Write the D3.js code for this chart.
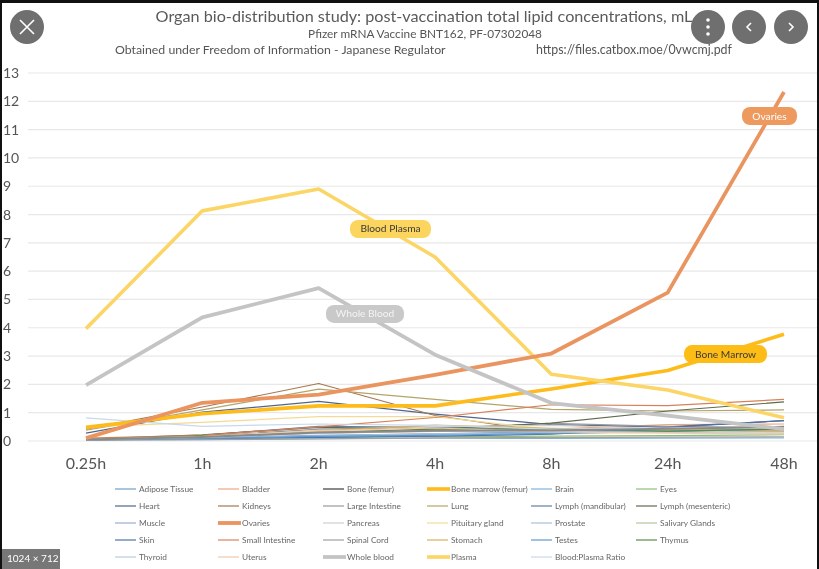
<!DOCTYPE html>
<html><head><meta charset="utf-8">
<script src="https://cdn.jsdelivr.net/npm/d3@7/dist/d3.min.js"></script>
<style>
html,body{margin:0;padding:0;background:#fff;overflow:hidden}
svg{display:block}
text{font-family:"Lato","Open Sans",sans-serif}
</style></head><body><svg id="c" width="819" height="569"></svg>
<script>
const timepoints=["0.25h","1h","2h","4h","8h","24h","48h"];
const yTicks=[0,1,2,3,4,5,6,7,8,9,10,11,12,13];
const seriesNames=["Adipose Tissue","Bladder","Bone (femur)","Bone marrow (femur)","Brain","Eyes","Heart","Kidneys","Large Intestine","Lung","Lymph (mandibular)","Lymph (mesenteric)","Muscle","Ovaries","Pancreas","Pituitary gland","Prostate","Salivary Glands","Skin","Small Intestine","Spinal Cord","Stomach","Testes","Thymus","Thyroid","Uterus","Whole blood","Plasma","Blood:Plasma Ratio"];
const seriesColors=["#6f9fc8","#eea77c","#8a8a8a","#fdbb1b","#7fb4dd","#8fbf72","#50668c","#a8764f","#9a9a9a","#b3a468","#5f7fa6","#5f6b4c","#9cadd0","#ea9460","#cfcfcf","#f0dc96","#a9c1d9","#b5c79b","#4e72ad","#d9805a","#a0a0a0","#dcae5c","#5a9ad0","#5c8a45","#b8cbe6","#f2c9a8","#c4c4c4","#fbd566","#c9d8ec"];
const seriesWidths=[1.2,1.2,2,3.6,1.2,1.2,1.2,1.2,1.2,1.2,1.2,1.2,1.2,3.8,1.2,1.2,1.2,1.2,1.2,1.2,1.2,1.2,1.2,1.2,1.2,1.2,3.8,3.6,1.2];
const v0=[.06,.05,.05,.48,.04,.04,.28,.42,.05,.38,.06,.07,.03,.1,.05,.5,.05,.06,.04,.1,.03,.08,.05,.07,.05,.06,1.97,3.97,.82];
const v1=[.12,.16,.14,.96,.05,.07,1.02,1.2,.17,1.1,.2,.22,.1,1.35,.13,.66,.1,.15,.08,.2,.05,.14,.09,.18,.13,.16,4.37,8.13,.52];
const v2=[.2,.28,.3,1.24,.07,.12,1.4,2.03,.42,1.83,.52,.48,.17,1.64,.34,.86,.18,.3,.13,.5,.08,.36,.16,.3,.27,.36,5.4,8.9,.6];
const v3=[.25,.34,.36,1.24,.1,.16,.95,.9,.45,1.47,.48,.42,.24,2.34,.5,.86,.26,.4,.17,.83,.11,.56,.2,.42,.37,.46,3.05,6.5,.55];
const v4=[.33,.42,.37,1.84,.09,.17,.58,.3,.62,1.12,.42,.63,.3,3.09,.55,.4,.28,.42,.24,1.28,.12,.45,.27,.42,.34,.32,1.34,2.36,.42];
const v5=[.37,.58,.43,2.49,.1,.19,.5,.37,.52,1.06,.34,1.06,.34,5.24,.44,.36,.3,.38,.48,1.25,.14,.4,.34,.35,.3,.28,.9,1.8,.46];
const v6=[.42,.6,.5,3.77,.11,.22,.72,.38,.48,1.1,.36,1.38,.38,12.33,.42,.3,.34,.42,.72,1.47,.15,.35,.42,.42,.27,.25,.42,.82,.5];
const valueRows=[v0,v1,v2,v3,v4,v5,v6];
const callouts=[["Ovaries",769.5,11.48,"#ee9a5e","#fff",55,18],["Blood Plasma",390.5,7.49,"#fcd55f","#3a3a3a",81,18],["Whole Blood",365,4.49,"#c9c9c9","#f4f4f4",78,18],["Bone Marrow",725.5,3.07,"#fdbd14","#3a3a3a",83,18]];

const svg=d3.select("#c");
const defs=svg.append("defs");
defs.append("filter").attr("id","soft").append("feGaussianBlur").attr("stdDeviation",0.35);
const chart=svg.append("g").attr("filter","url(#soft)");
const x=d3.scalePoint().domain(timepoints).range([86,784]);
const y=d3.scaleLinear().domain([0,13]).range([441,73]);
const data=seriesNames.map((name,i)=>({name,color:seriesColors[i],w:seriesWidths[i],values:valueRows.map(r=>r[i])}));

chart.append("g").selectAll("line").data(yTicks).join("line")
 .attr("x1",28).attr("x2",817).attr("y1",d=>y(d)).attr("y2",d=>y(d)).attr("stroke","#e8e8e8").attr("stroke-width",1.2);
chart.append("g").selectAll("text").data(yTicks).join("text")
 .attr("x",3).attr("y",d=>y(d)+5).attr("font-size",14).attr("fill","#555").text(d=>d);
chart.append("g").selectAll("text").data(timepoints).join("text")
 .attr("x",d=>x(d)).attr("y",469).attr("text-anchor","middle").attr("font-size",16).attr("fill","#555").text(d=>d);

const line=d3.line().x((d,i)=>x(timepoints[i])).y(d=>y(d));
const order=data.slice().sort((a,b)=>a.w-b.w);
chart.append("g").selectAll("path").data(order).join("path")
 .attr("fill","none").attr("stroke",d=>d.color).attr("stroke-width",d=>d.w).attr("stroke-linejoin","round")
 .attr("d",d=>line(d.values));

callouts.forEach(c=>{
 const cx=c[1],cy=y(c[2]);
 chart.append("rect").attr("x",cx-c[5]/2).attr("y",cy-c[6]/2).attr("width",c[5]).attr("height",c[6]).attr("rx",8).attr("fill",c[3]);
 chart.append("text").attr("x",cx).attr("y",cy+3.5).attr("text-anchor","middle").attr("font-size",10.2).attr("fill",c[4]).text(c[0]);
});

const colX=[115,218,323,427,531,636], rowY=[489,506,523,540,557];
const lg=chart.append("g").selectAll("g").data(data).join("g")
 .attr("transform",(d,i)=>`translate(${colX[i%6]},${rowY[Math.floor(i/6)]})`);
lg.append("line").attr("x1",0).attr("x2",d=>d.w>2?23:21).attr("stroke",d=>d.color).attr("stroke-width",d=>d.w);
lg.append("text").attr("x",24).attr("y",3).attr("font-size",8.3).attr("fill","#666").text(d=>d.name);

chart.append("text").attr("x",424).attr("y",22).attr("text-anchor","middle").attr("font-size",16.2).attr("fill","#5a5a5a").text("Organ bio-distribution study: post-vaccination total lipid concentrations, mL");
chart.append("text").attr("x",425).attr("y",38).attr("text-anchor","middle").attr("font-size",11.8).attr("fill","#555").text("Pfizer mRNA Vaccine BNT162, PF-07302048");
chart.append("text").attr("x",115).attr("y",54).attr("font-size",12.3).attr("fill","#555").text("Obtained under Freedom of Information - Japanese Regulator");
chart.append("text").attr("x",536).attr("y",54).attr("font-size",12.4).attr("fill","#555").text("https://files.catbox.moe/0vwcmj.pdf");

// viewer overlay
svg.append("rect").attr("x",0).attr("y",0).attr("width",819).attr("height",3).attr("fill","#111");
svg.append("rect").attr("x",0).attr("y",0).attr("width",2).attr("height",569).attr("fill","#111");
svg.append("rect").attr("x",817).attr("y",0).attr("width",2).attr("height",569).attr("fill","#111");
const btn=[[27,27],[708,27],[749,27],[791,27]];
svg.append("g").selectAll("circle").data(btn).join("circle").attr("cx",d=>d[0]).attr("cy",d=>d[1]).attr("r",17).attr("fill","#6f6f6f");
svg.append("path").attr("d","M20 20L34 34M34 20L20 34").attr("stroke","#fff").attr("stroke-width",1.6);
svg.append("g").selectAll("circle").data([20,27,34]).join("circle").attr("cx",708).attr("cy",d=>d).attr("r",1.8).attr("fill","#fff");
svg.append("path").attr("d","M751 23L747 27L751 31").attr("fill","none").attr("stroke","#fff").attr("stroke-width",1.6);
svg.append("path").attr("d","M789 23L793 27L789 31").attr("fill","none").attr("stroke","#fff").attr("stroke-width",1.6);
svg.append("rect").attr("x",2).attr("y",549).attr("width",58).attr("height",20).attr("fill","#777");
svg.append("text").attr("x",7).attr("y",562).attr("font-size",10).attr("fill","#fff").text("1024 × 712");
</script></body></html>
